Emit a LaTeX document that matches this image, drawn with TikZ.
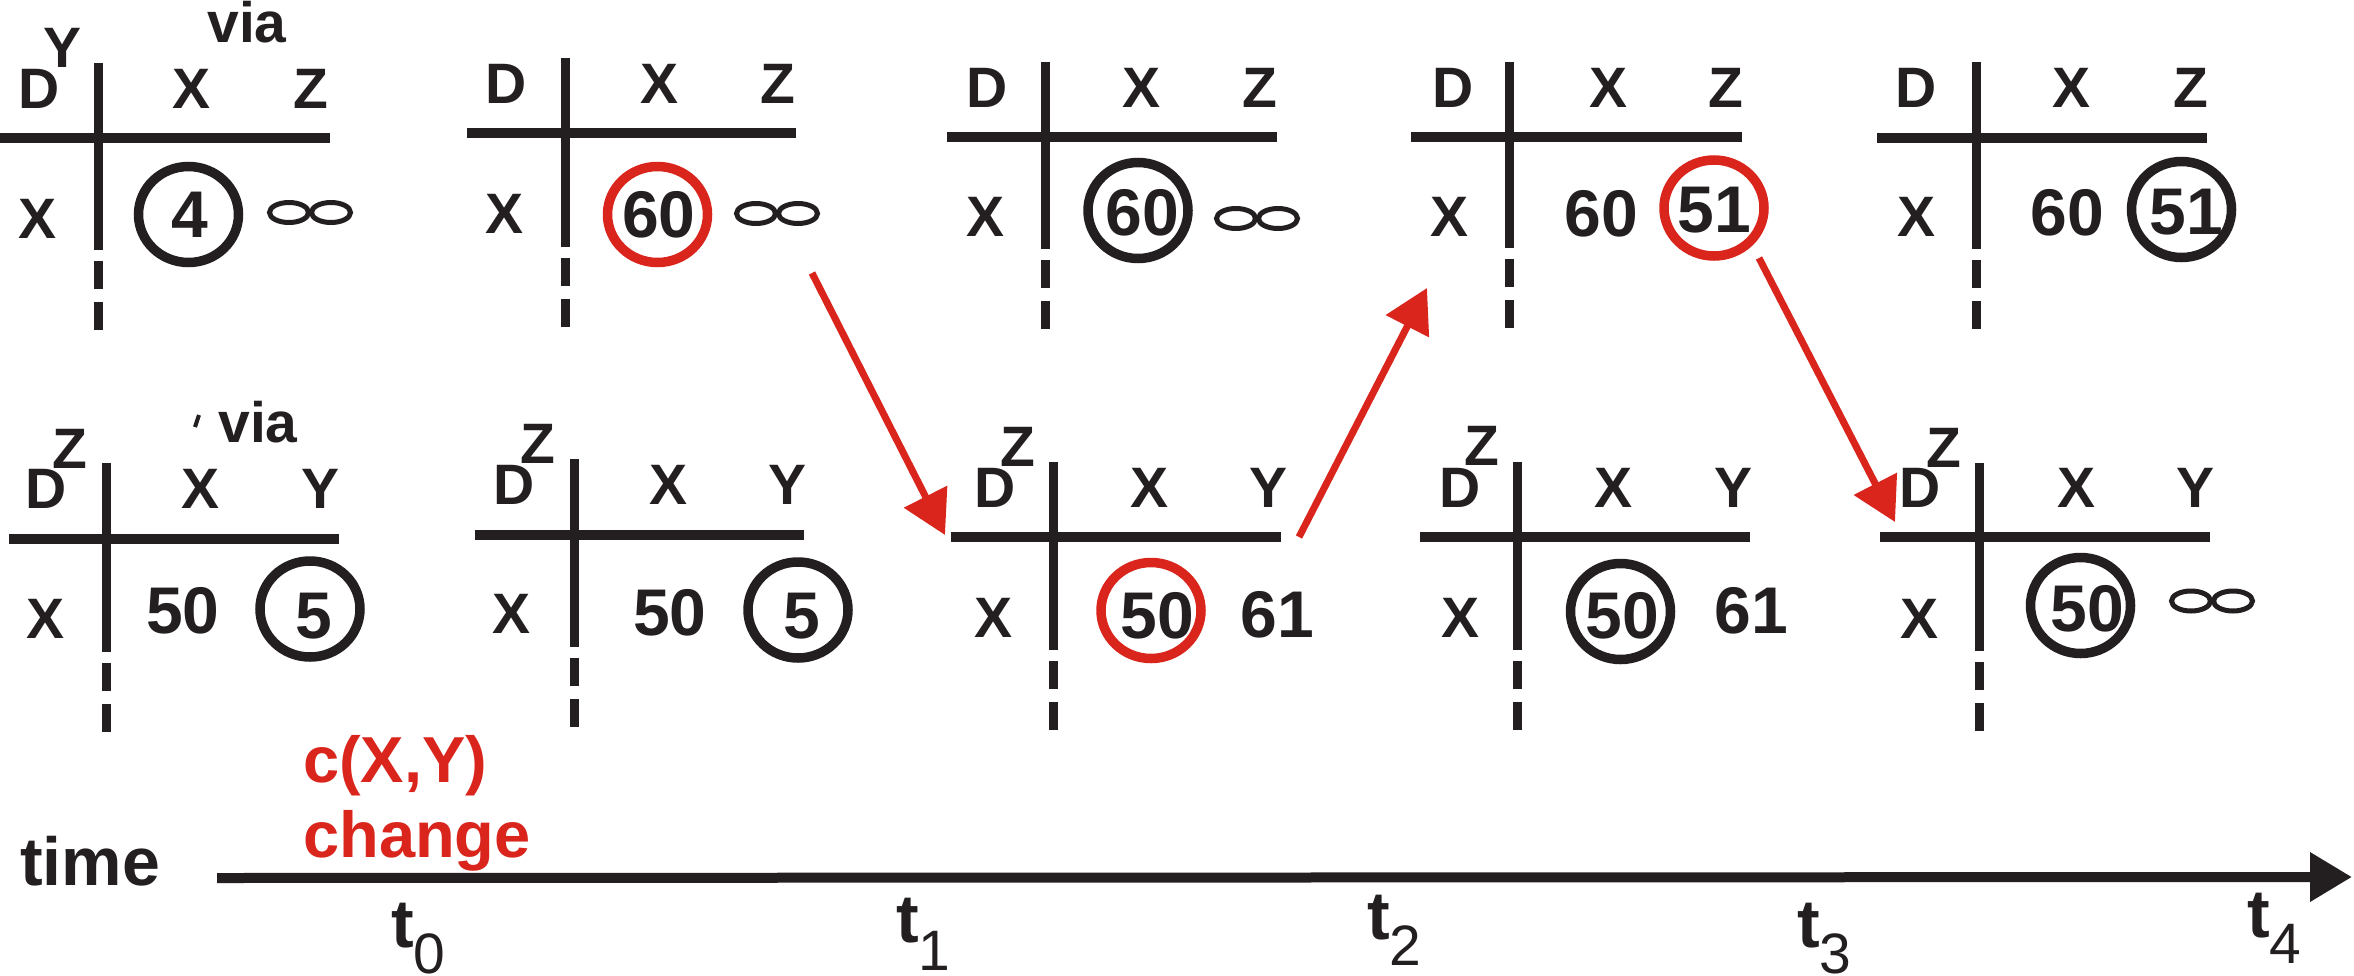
\documentclass[tikz,border=0pt]{standalone}
\usepackage{fontspec}
\setmainfont{Liberation Sans}
\usetikzlibrary{arrows.meta,shapes.geometric}
\definecolor{ink}{RGB}{35,31,32}
\definecolor{redc}{RGB}{218,37,29}
\newcommand\fLab{\fontsize{57}{57}\selectfont\bfseries}
\newcommand\fNum{\fontsize{66}{66}\selectfont\bfseries}
\newcommand\fTime{\fontsize{68}{68}\selectfont\bfseries}
\newcommand\fRed{\fontsize{65}{65}\selectfont\bfseries}
\newcommand\fSub{\fontsize{57}{57}\selectfont\mdseries}
\tikzset{
  lab/.style={font=\fLab, text=ink, inner sep=0pt, anchor=base},
  num/.style={font=\fNum, text=ink, inner sep=0pt, anchor=base},
  hrule/.style={line width=10pt, draw=ink},
  vrule/.style={line width=9pt, draw=ink},
  circ/.style={ellipse, draw=ink, line width=9.5pt, minimum width=100pt, minimum height=96pt, inner sep=0pt},
  redcirc/.style={circ, draw=redc},
  infty/.style={line width=5pt, draw=ink},
  chg/.style={line width=7pt, draw=redc, -{Triangle[length=43pt,width=47pt]}},
  axis/.style={line width=10pt, draw=ink, -{Triangle[length=42pt,width=47pt]}},
  tlab/.style={font=\fTime, text=ink, inner sep=0pt, anchor=base west},
  redtxt/.style={font=\fRed, text=redc, inner sep=0pt, anchor=base west}
}
% vertical divider: solid part plus two dashes
\newcommand\drawDivider[3]{%
  \draw[vrule] (#1,#2) -- (#1,#3);
  \draw[vrule] (#1,{#3+11}) -- (#1,{#3+39});
  \draw[vrule] (#1,{#3+52}) -- (#1,{#3+80});
}
% infinity sign drawn as two loops
\newcommand\drawInf[2]{%
  \draw[infty] ({#1-21},#2) ellipse [x radius=19.5pt, y radius=10pt];
  \draw[infty] ({#1+21},#2) ellipse [x radius=19.5pt, y radius=10pt];
}
\begin{document}
\begin{tikzpicture}[x=1pt,y=-1pt]
\useasboundingbox (0,0) rectangle (2354,975);
\fill[white] (0,0) rectangle (2354,975);

% ---------------- top row (table of Y) ----------------
% T1
\draw[hrule] (0,138) -- (330,138);
\drawDivider{98}{63}{250}
\node[lab] (t1D) at (39,108) {D};
\node[lab] (t1sup) at (63,67) {Y};
\node[lab] (t1via) at (247,42) {via};
\node[lab] (t1hX) at (192,108) {X};
\node[lab] (t1hZ) at (311,108) {Z};
\node[lab] (t1rX) at (38,238) {X};
\node[circ] (t1c) at (188.5,214.5) {};
\node[num] (t1v) at (190,237) {4};
\drawInf{310}{212.5}

% T2
\draw[hrule] (467,133) -- (796,133);
\drawDivider{565}{58}{247}
\node[lab] (t2D) at (506,103) {D};
\node[lab] (t2hX) at (660,103) {X};
\node[lab] (t2hZ) at (778,103) {Z};
\node[lab] (t2rX) at (505,233) {X};
\node[redcirc] (t2c) at (657.5,214.5) {};
\node[num] (t2v) at (659,237) {60};
\drawInf{777}{213.5}

% T3
\draw[hrule] (947,137) -- (1277,137);
\drawDivider{1045}{62}{249}
\node[lab] (t3D) at (987,107) {D};
\node[lab] (t3hX) at (1141,107) {X};
\node[lab] (t3hZ) at (1260,107) {Z};
\node[lab] (t3rX) at (985,236) {X};
\node[circ] (t3c) at (1138,210.5) {};
\node[num] (t3v) at (1142,235) {60};
\drawInf{1257}{218.5}

% T4
\draw[hrule] (1411,137) -- (1742,137);
\drawDivider{1509}{62}{248}
\node[lab] (t4D) at (1453,107) {D};
\node[lab] (t4hX) at (1608,107) {X};
\node[lab] (t4hZ) at (1726,107) {Z};
\node[lab] (t4rX) at (1449,236) {X};
\node[num] (t4a) at (1601,236) {60};
\node[redcirc] (t4c) at (1714,208) {};
\node[num] (t4v) at (1714,232) {51};

% T5
\draw[hrule] (1877,138) -- (2207,138);
\drawDivider{1976}{62}{249}
\node[lab] (t5D) at (1916,107) {D};
\node[lab] (t5hX) at (2071,107) {X};
\node[lab] (t5hZ) at (2191,107) {Z};
\node[lab] (t5rX) at (1916,236) {X};
\node[num] (t5a) at (2067,235) {60};
\node[circ] (t5c) at (2181.5,209.5) {};
\node[num] (t5v) at (2186,234) {51};

% ---------------- bottom row (table of Z) ----------------
% B1
\draw[hrule] (9,539) -- (339,539);
\drawDivider{106}{463}{652}
\node[lab] (b1D) at (46,508) {D};
\node[lab] (b1sup) at (70,468) {Z};
\draw[line width=4pt, draw=ink] (199,415) -- (195,427);
\node[lab] (b1via) at (258,442) {via};
\node[lab] (b1hX) at (201,508) {X};
\node[lab] (b1hY) at (321,508) {Y};
\node[lab] (b1rX) at (46,638) {X};
\node[num] (b1a) at (183,633) {50};
\node[circ] (b1c) at (310,609) {};
\node[num] (b1v) at (314,638) {5};

% B2
\draw[hrule] (475,535) -- (804,535);
\drawDivider{574}{459}{647}
\node[lab] (b2D) at (514,504) {D};
\node[lab] (b2sup) at (538,463) {Z};
\node[lab] (b2hX) at (669,504) {X};
\node[lab] (b2hY) at (788,504) {Y};
\node[lab] (b2rX) at (512,633) {X};
\node[num] (b2a) at (670,635) {50};
\node[circ] (b2c) at (798,610) {};
\node[num] (b2v) at (802,638) {5};

% B3
\draw[hrule] (951,537) -- (1281,537);
\drawDivider{1053}{462}{650}
\node[lab] (b3D) at (995,507) {D};
\node[lab] (b3sup) at (1018,466) {Z};
\node[lab] (b3hX) at (1149,507) {X};
\node[lab] (b3hY) at (1268,507) {Y};
\node[lab] (b3rX) at (993,637) {X};
\node[redcirc] (b3c) at (1151,610.5) {};
\node[num] (b3v) at (1157,638) {50};
\node[num] (b3b) at (1277,637) {61};

% B4
\draw[hrule] (1420,537) -- (1750,537);
\drawDivider{1517}{462}{650}
\node[lab] (b4D) at (1460,507) {D};
\node[lab] (b4sup) at (1482,465) {Z};
\node[lab] (b4hX) at (1613,507) {X};
\node[lab] (b4hY) at (1733,507) {Y};
\node[lab] (b4rX) at (1460,637) {X};
\node[circ] (b4c) at (1620.5,611.5) {};
\node[num] (b4v) at (1622,638) {50};
\node[num] (b4b) at (1751,633) {61};

% B5
\draw[hrule] (1880,537) -- (2210,537);
\drawDivider{1979}{463}{651}
\node[lab] (b5D) at (1920,507) {D};
\node[lab] (b5sup) at (1944,467) {Z};
\node[lab] (b5hX) at (2076,507) {X};
\node[lab] (b5hY) at (2195,507) {Y};
\node[lab] (b5rX) at (1919,638) {X};
\node[circ] (b5c) at (2080.5,605.5) {};
\node[num] (b5v) at (2087,631) {50};
\drawInf{2212}{601}

% ---------------- red update arrows ----------------
\coordinate (a1s) at (812,273);
\coordinate (a1e) at (945,535);
\coordinate (a2s) at (1299,537);
\coordinate (a2e) at (1427,288);
\coordinate (a3s) at (1759,258);
\coordinate (a3e) at (1895,522);
\draw[chg] (a1s) -- (a1e);
\draw[chg] (a2s) -- (a2e);
\draw[chg] (a3s) -- (a3e);

% ---------------- time axis ----------------
\node[font=\fTime, text=ink, inner sep=0pt, anchor=base] (time) at (90,885) {time};
\node[redtxt] (cxy) at (303,782) {c(X,Y)};
\node[redtxt] (chng) at (303,857) {change};
\coordinate (ax0) at (217,878);
\coordinate (ax1) at (2352,877);
\draw[axis] (ax0) -- (ax1);
\node[tlab] (tt0) at (391,947) {t\raisebox{-26pt}{\fSub 0}};
\node[tlab] (tt1) at (896,942) {t\raisebox{-28pt}{\fSub 1}};
\node[tlab] (tt2) at (1367,939) {t\raisebox{-26pt}{\fSub 2}};
\node[tlab] (tt3) at (1797,947) {t\raisebox{-26pt}{\fSub 3}};
\node[tlab] (tt4) at (2247,937) {t\raisebox{-26pt}{\fSub 4}};
\end{tikzpicture}
\end{document}
